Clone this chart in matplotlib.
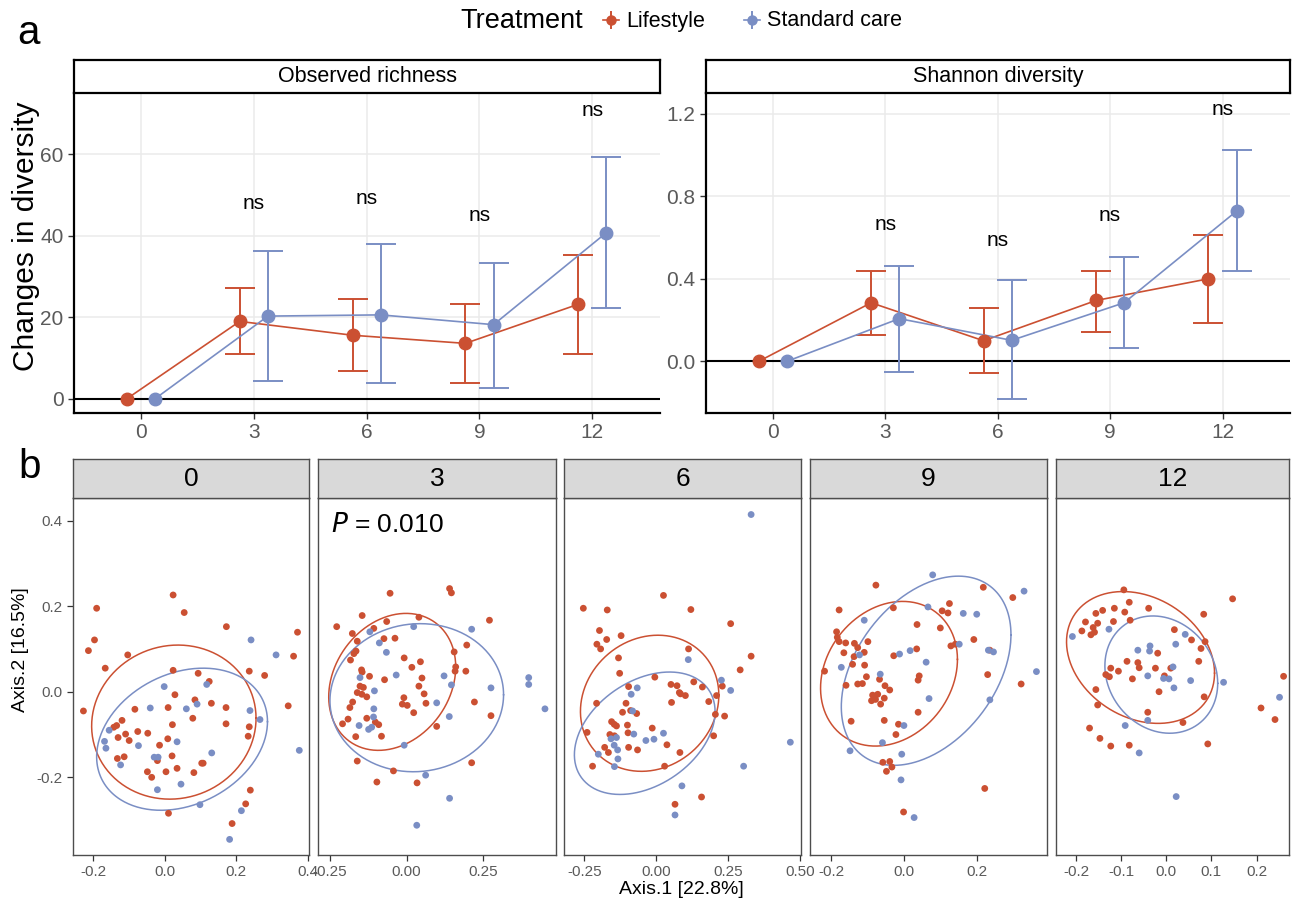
import numpy as np
import matplotlib
matplotlib.use("Agg")
import matplotlib.pyplot as plt
from matplotlib.lines import Line2D

plt.rcParams["font.family"] = ["Liberation Sans", "DejaVu Sans"]

RED = "#CB5032"
BLUE = "#7A8EC4"
W, H = 1292, 901

# ---------------- panel a data ----------------
months = [0, 3, 6, 9, 12]
rich_life = [0, 19.0, 15.6, 13.6, 23.2]
rich_life_lo = [0, 10.9, 6.7, 3.8, 11.0]
rich_life_hi = [0, 27.3, 24.5, 23.3, 35.4]
rich_std = [0, 20.3, 20.6, 18.2, 40.8]
rich_std_lo = [0, 4.4, 3.8, 2.7, 22.4]
rich_std_hi = [0, 36.3, 37.9, 33.4, 59.4]
rich_ns_y = [47.9, 49.3, 45.0, 70.9]

shan_life = [0, 0.284, 0.100, 0.295, 0.400]
shan_life_lo = [0, 0.129, -0.058, 0.144, 0.187]
shan_life_hi = [0, 0.439, 0.260, 0.439, 0.614]
shan_std = [0, 0.207, 0.102, 0.284, 0.728]
shan_std_lo = [0, -0.050, -0.181, 0.063, 0.436]
shan_std_hi = [0, 0.463, 0.392, 0.507, 1.022]
shan_ns_y = [0.662, 0.585, 0.706, 1.219]

# ---------------- panel b data (PCoA, Axis.1 / Axis.2) ----------------
m0_life = [(-0.228, -0.045), (-0.191, 0.195), (-0.197, 0.121), (-0.214, 0.096), (-0.104, 0.086),
           (-0.167, 0.055), (0.023, 0.226), (0.054, 0.185), (0.172, 0.152), (0.371, 0.139),
           (0.360, 0.083), (0.236, 0.048), (0.279, 0.038), (0.023, 0.050), (0.093, 0.043),
           (0.124, 0.024), (0.028, -0.007), (0.084, -0.019), (0.130, -0.027), (0.171, -0.037),
           (0.009, -0.037), (-0.084, -0.041), (0.345, -0.033), (0.078, -0.062), (0.171, -0.075),
           (0.236, -0.082), (0.233, -0.104), (-0.120, -0.067), (-0.135, -0.079), (-0.143, -0.083),
           (0.021, -0.077), (-0.076, -0.093), (-0.048, -0.097), (-0.110, -0.099), (-0.131, -0.107),
           (-0.100, -0.114), (0.008, -0.110), (-0.015, -0.125), (0.020, -0.150), (-0.114, -0.152),
           (-0.133, -0.156), (-0.021, -0.161), (0.034, -0.179), (0.103, -0.167), (0.107, -0.167),
           (-0.049, -0.187), (-0.037, -0.200), (0.003, -0.187), (0.081, -0.189), (0.239, -0.230),
           (0.226, -0.262), (0.188, -0.308), (0.010, -0.284)]
m0_std = [(0.241, 0.121), (0.311, 0.086), (-0.002, 0.012), (0.117, 0.017), (-0.041, -0.038),
          (0.060, -0.040), (0.090, -0.029), (0.238, -0.044), (0.266, -0.065), (-0.156, -0.090),
          (-0.169, -0.116), (-0.165, -0.132), (-0.074, -0.126), (0.034, -0.117), (0.131, -0.143),
          (0.376, -0.137), (-0.030, -0.153), (-0.019, -0.153), (-0.124, -0.171), (0.045, -0.216),
          (-0.021, -0.229), (0.098, -0.264), (0.214, -0.278), (0.181, -0.345)]

m3_life = [(-0.054, 0.230), (0.140, 0.241), (0.146, 0.231), (-0.228, 0.152), (-0.145, 0.178),
           (-0.065, 0.164), (-0.107, 0.148), (0.040, 0.174), (0.270, 0.167), (-0.177, 0.136),
           (-0.161, 0.118), (-0.074, 0.124), (-0.038, 0.125), (-0.165, 0.095), (-0.172, 0.089),
           (-0.183, 0.074), (0.155, 0.093), (0.196, 0.109), (-0.008, 0.079), (0.045, 0.070),
           (0.017, 0.057), (0.160, 0.058), (0.158, 0.048), (0.193, 0.048), (-0.147, 0.051),
           (-0.145, 0.046), (-0.121, 0.036), (-0.072, 0.028), (0.050, 0.032), (-0.152, 0.013),
           (-0.141, 0.010), (0.040, 0.013), (-0.161, -0.002), (-0.146, -0.006), (-0.130, -0.012),
           (0.057, -0.005), (-0.176, -0.024), (-0.185, -0.037), (-0.009, -0.014), (-0.014, -0.029),
           (0.002, -0.032), (0.063, -0.027), (0.221, -0.024), (0.023, -0.049), (-0.191, -0.064),
           (-0.209, -0.075), (-0.130, -0.062), (-0.102, -0.071), (-0.091, -0.077), (0.275, -0.056),
           (0.098, -0.081), (-0.166, -0.105), (-0.082, -0.104), (-0.161, -0.162), (-0.043, -0.185),
           (0.212, -0.166), (-0.097, -0.211), (0.034, -0.213)]
m3_std = [(-0.120, 0.140), (0.023, 0.152), (0.212, 0.146), (-0.089, 0.114), (-0.066, 0.092),
          (-0.152, 0.033), (-0.034, 0.039), (0.122, 0.037), (0.146, 0.016), (0.275, 0.009),
          (0.398, 0.033), (0.398, 0.017), (0.451, -0.040), (-0.105, 0.002), (0.098, -0.026),
          (-0.107, -0.040), (-0.108, -0.059), (0.139, -0.058), (-0.155, -0.079), (-0.114, -0.083),
          (-0.124, -0.088), (-0.008, -0.125), (0.062, -0.195), (0.140, -0.249), (0.033, -0.312)]

m6_life = [(-0.253, 0.195), (-0.170, 0.191), (0.025, 0.225), (0.120, 0.192), (0.258, 0.159),
           (-0.197, 0.143), (-0.172, 0.122), (-0.122, 0.131), (-0.206, 0.111), (-0.193, 0.100),
           (0.112, 0.100), (0.329, 0.083), (-0.131, 0.079), (0.291, 0.051), (-0.127, 0.043),
           (-0.005, 0.034), (0.130, 0.023), (-0.096, 0.012), (0.051, 0.017), (0.072, 0.014),
           (0.080, -0.002), (0.084, -0.005), (0.101, -0.009), (0.160, 0.011), (0.229, 0.013),
           (0.209, -0.009), (0.182, -0.023), (0.053, -0.025), (-0.207, -0.027), (-0.105, -0.027),
           (-0.117, -0.048), (-0.089, -0.044), (-0.068, -0.051), (0.205, -0.053), (0.237, -0.057),
           (-0.155, -0.070), (-0.146, -0.076), (-0.138, -0.080), (-0.100, -0.078), (-0.240, -0.095),
           (-0.014, -0.085), (-0.098, -0.096), (-0.161, -0.100), (-0.145, -0.103), (0.199, -0.103),
           (-0.179, -0.130), (-0.166, -0.142), (-0.096, -0.130), (-0.065, -0.136), (0.037, -0.124),
           (0.082, -0.142), (-0.221, -0.174), (0.029, -0.174), (0.157, -0.246), (0.065, -0.263)]
m6_std = [(0.329, 0.414), (0.111, 0.075), (0.226, 0.027), (0.258, 0.003), (-0.066, 0.009),
          (-0.087, -0.006), (-0.082, -0.045), (-0.078, -0.099), (0.025, -0.097), (-0.036, -0.114),
          (-0.008, -0.111), (-0.157, -0.110), (-0.138, -0.107), (-0.146, -0.125), (-0.134, -0.136),
          (-0.201, -0.146), (-0.133, -0.157), (-0.145, -0.175), (0.465, -0.118), (0.303, -0.174),
          (0.089, -0.220), (0.065, -0.288)]

m9_life = [(-0.078, 0.249), (0.217, 0.244), (0.298, 0.220), (0.124, 0.206), (-0.030, 0.196),
           (-0.179, 0.191), (0.104, 0.189), (0.120, 0.184), (0.035, 0.157), (0.099, 0.149),
           (-0.186, 0.140), (-0.184, 0.127), (-0.179, 0.117), (-0.161, 0.114), (-0.100, 0.117),
           (-0.137, 0.113), (-0.128, 0.103), (0.191, 0.122), (0.128, 0.107), (0.140, 0.111),
           (-0.166, 0.091), (-0.110, 0.092), (-0.138, 0.082), (-0.029, 0.084), (0.034, 0.100),
           (0.235, 0.097), (-0.142, 0.064), (-0.109, 0.062), (-0.219, 0.048), (0.229, 0.040),
           (0.321, 0.018), (0.041, 0.037), (0.038, 0.027), (-0.104, 0.035), (-0.068, 0.029),
           (-0.160, 0.015), (-0.128, 0.018), (-0.115, 0.019), (-0.053, 0.014), (-0.040, 0.004),
           (-0.087, -0.008), (-0.073, -0.006), (-0.055, -0.015), (-0.090, -0.021), (-0.079, -0.018),
           (-0.065, -0.029), (0.038, -0.048), (-0.146, -0.069), (-0.055, -0.067), (-0.016, -0.076),
           (-0.023, -0.100), (-0.059, -0.165), (-0.040, -0.163), (-0.034, -0.176), (-0.049, -0.186),
           (0.221, -0.226), (-0.002, -0.281)]
m9_std = [(0.078, 0.273), (0.329, 0.235), (0.065, 0.198), (0.162, 0.183), (0.199, 0.181),
          (-0.110, 0.167), (0.151, 0.111), (0.231, 0.097), (0.245, 0.093), (-0.123, 0.086),
          (-0.013, 0.088), (0.016, 0.096), (0.060, 0.069), (-0.173, 0.057), (-0.066, 0.041),
          (0.363, 0.047), (0.068, -0.016), (0.235, -0.019), (-0.001, -0.079), (-0.060, -0.119),
          (-0.149, -0.138), (-0.007, -0.146), (-0.009, -0.206), (0.027, -0.294)]

m12_life = [(-0.094, 0.238), (0.147, 0.217), (-0.082, 0.209), (-0.141, 0.190), (-0.156, 0.183),
            (-0.115, 0.195), (-0.092, 0.186), (-0.039, 0.195), (0.083, 0.181), (-0.179, 0.163),
            (-0.152, 0.160), (-0.117, 0.164), (-0.080, 0.167), (-0.162, 0.150), (-0.187, 0.142),
            (-0.167, 0.133), (-0.159, 0.139), (0.018, 0.145), (0.056, 0.121), (0.086, 0.117),
            (0.077, 0.101), (-0.019, 0.090), (0.072, 0.071), (-0.087, 0.071), (-0.063, 0.068),
            (-0.060, 0.056), (-0.123, 0.055), (-0.106, 0.048), (-0.024, 0.055), (-0.134, 0.040),
            (-0.126, 0.035), (-0.075, 0.030), (-0.004, 0.037), (0.010, 0.055), (0.260, 0.036),
            (-0.016, 0.000), (-0.156, 0.005), (0.084, -0.012), (-0.152, -0.031), (0.210, -0.038),
            (0.241, -0.065), (-0.041, -0.048), (0.037, -0.072), (-0.170, -0.085), (-0.147, -0.109),
            (-0.123, -0.127), (-0.082, -0.125), (0.092, -0.122)]
m12_std = [(-0.208, 0.129), (-0.127, 0.146), (0.042, 0.134), (0.021, 0.111), (-0.036, 0.107),
           (-0.037, 0.095), (-0.063, 0.097), (0.015, 0.058), (-0.041, 0.037), (-0.006, 0.031),
           (0.006, 0.030), (0.017, 0.009), (0.054, 0.026), (0.127, 0.022), (0.251, -0.013),
           (-0.041, -0.067), (-0.091, -0.079), (-0.060, -0.143), (0.022, -0.245)]

# 95% ellipses: centre x, centre y, x half-extent, y half-extent, tilt phase
ell_life = [(0.025, -0.071, 0.230, 0.180, 0.05), (-0.047, 0.023, 0.207, 0.160, 0.22),
            (-0.023, -0.027, 0.240, 0.159, 0.12), (-0.042, 0.042, 0.188, 0.169, 0.20),
            (-0.057, 0.080, 0.164, 0.154, -0.24)]
ell_std = [(0.048, -0.111, 0.239, 0.166, 0.25), (0.033, -0.014, 0.283, 0.173, 0.04),
           (-0.040, -0.097, 0.244, 0.143, 0.36), (0.060, 0.049, 0.233, 0.221, 0.39),
           (-0.011, 0.040, 0.125, 0.137, -0.15)]

facet_life = [m0_life, m3_life, m6_life, m9_life, m12_life]
facet_std = [m0_std, m3_std, m6_std, m9_std, m12_std]
facet_xlim = [(-0.258, 0.404), (-0.288, 0.486), (-0.319, 0.502), (-0.259, 0.392), (-0.245, 0.272)]
facet_xticks = [[-0.2, 0.0, 0.2, 0.4], [-0.25, 0.0, 0.25], [-0.25, 0.0, 0.25, 0.5],
                [-0.2, 0.0, 0.2], [-0.2, -0.1, 0.0, 0.1, 0.2]]
facet_fmt = ["{:.1f}", "{:.2f}", "{:.2f}", "{:.1f}", "{:.1f}"]
facet_px = [(72.7, 309.3), (318.3, 555.7), (564.3, 801.0), (810.0, 1047.0), (1055.7, 1289.0)]


def rect(x0, y0, x1, y1):
    return [x0 / W, 1 - y1 / H, (x1 - x0) / W, (y1 - y0) / H]


def strip(fig, x0, y0, x1, y1, label, fc, ec, size, lw):
    s = fig.add_axes(rect(x0, y0, x1, y1))
    s.set_xticks([]); s.set_yticks([])
    s.set_facecolor(fc)
    for sp in s.spines.values():
        sp.set_color(ec); sp.set_linewidth(lw)
    s.text(0.5, 0.5, label, ha="center", va="center", fontsize=size, transform=s.transAxes)


def panel_a(fig, box, title, life, life_lo, life_hi, std, std_lo, std_hi, ns_y,
            ylim, yticks, yfmt):
    x0, y0, x1, y1 = box
    ax = fig.add_axes(rect(x0, y0, x1, y1))
    strip(fig, x0, 60, x1, y0, title, "white", "black", 15.5, 1.6)
    t = np.array(months, dtype=float)
    ax.grid(True, color="#EBEBEB", lw=1.1)
    ax.set_axisbelow(True)
    ax.axhline(0, color="black", lw=1.5, zorder=2)
    for off, m, lo, hi, c in [(-0.375, life, life_lo, life_hi, RED),
                              (0.375, std, std_lo, std_hi, BLUE)]:
        m = np.array(m); lo = np.array(lo); hi = np.array(hi)
        ax.plot(t + off, m, color=c, lw=1.2, zorder=3)
        ax.errorbar(t[1:] + off, m[1:], yerr=[m[1:] - lo[1:], hi[1:] - m[1:]], fmt="none",
                    ecolor=c, elinewidth=1.4, capsize=10.6, capthick=1.4, zorder=3)
        ax.plot(t + off, m, "o", color=c, ms=9, zorder=4)
    for tm, y in zip(months[1:], ns_y):
        ax.text(tm, y, "ns", ha="center", va="center", fontsize=15)
    ax.set_xlim(-1.78, 13.8)
    ax.set_ylim(*ylim)
    ax.set_xticks(months)
    ax.set_yticks(yticks)
    ax.set_yticklabels([yfmt.format(v) for v in yticks])
    ax.tick_params(labelsize=15, colors="#333333", labelcolor="#5A5A5A", length=4, width=1)
    for s in ["top", "right"]:
        ax.spines[s].set_visible(False)
    for s in ["left", "bottom"]:
        ax.spines[s].set_linewidth(1.6)
    return ax


fig = plt.figure(figsize=(W / 100, H / 100), dpi=100)

ax_l = panel_a(fig, (74, 93, 660, 413), "Observed richness", rich_life, rich_life_lo,
               rich_life_hi, rich_std, rich_std_lo, rich_std_hi, rich_ns_y,
               (-3.5, 75.1), [0, 20, 40, 60], "{:d}")
ax_r = panel_a(fig, (706, 93, 1290, 413), "Shannon diversity", shan_life, shan_life_lo,
               shan_life_hi, shan_std, shan_std_lo, shan_std_hi, shan_ns_y,
               (-0.25, 1.30), [0.0, 0.4, 0.8, 1.2], "{:.1f}")
fig.text(26 / W, 1 - 236 / H, "Changes in diversity", rotation=90, ha="center",
         va="center", fontsize=21.5)

# legend
fig.text(460 / W, 1 - 21 / H, "Treatment", ha="left", va="center", fontsize=19.5)
for cx, c, lab in [(611, RED, "Lifestyle"), (752, BLUE, "Standard care")]:
    fx, fy = cx / W, 1 - 20 / H
    dx, dy = 8 / W, 8 / H
    fig.add_artist(Line2D([fx - dx, fx + dx], [fy, fy], color=c, lw=1.2, transform=fig.transFigure))
    fig.add_artist(Line2D([fx, fx], [fy - dy, fy + dy], color=c, lw=1.4, transform=fig.transFigure))
    fig.add_artist(Line2D([fx], [fy], marker="o", ms=6.5, color=c, transform=fig.transFigure))
    fig.text((cx + 15) / W, 1 - 21 / H, lab, ha="left", va="center", fontsize=15.5)

# panel b
tt = np.linspace(0, 2 * np.pi, 300)
for i, m in enumerate(months):
    px0, px1 = facet_px[i]
    ax = fig.add_axes(rect(px0, 498, px1, 855))
    strip(fig, px0, 459, px1, 498, str(m), "#D9D9D9", "#4D4D4D", 19, 1.0)
    for pts, ell, c in [(facet_life[i], ell_life[i], RED), (facet_std[i], ell_std[i], BLUE)]:
        p = np.array(pts)
        ax.scatter(p[:, 0], p[:, 1], s=24, color=c, edgecolors="none", zorder=3)
        cx, cy, rx, ry, ph = ell
        ax.plot(cx + rx * np.cos(tt), cy + ry * np.sin(tt + ph), color=c, lw=1.1, zorder=2)
    ax.set_xlim(*facet_xlim[i])
    ax.set_ylim(-0.3815, 0.4526)
    ax.set_xticks(facet_xticks[i])
    ax.set_xticklabels([facet_fmt[i].format(v) for v in facet_xticks[i]])
    ax.set_yticks([-0.2, 0.0, 0.2, 0.4])
    if i == 0:
        ax.set_yticklabels(["-0.2", "0.0", "0.2", "0.4"])
    else:
        ax.tick_params(axis="y", left=False, labelleft=False)
    ax.tick_params(labelsize=11, colors="#333333", labelcolor="#5A5A5A", length=4, width=0.9)
    for sp in ax.spines.values():
        sp.set_color("#4D4D4D"); sp.set_linewidth(1.0)
    if m == 3:
        ax.text(-0.248, 0.39, r"$\mathit{P}$ = 0.010", ha="left", va="center", fontsize=19)

fig.text(681 / W, 1 - 889 / H, "Axis.1 [22.8%]", ha="center", va="center", fontsize=14)
fig.text(21 / W, 1 - 650 / H, "Axis.2 [16.5%]", rotation=90, ha="center", va="center", fontsize=14)

fig.text(17 / W, 1 - 44 / H, "a", ha="left", va="baseline", fontsize=29)
fig.text(18 / W, 1 - 478 / H, "b", ha="left", va="baseline", fontsize=29)

fig.savefig("out.png", dpi=100)
